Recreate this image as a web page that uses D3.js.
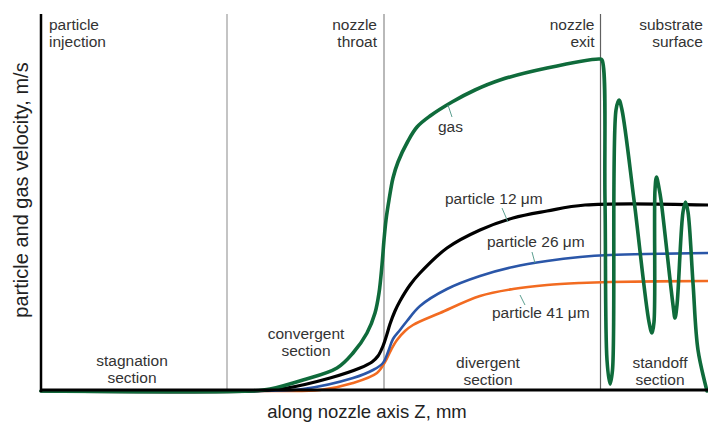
<!DOCTYPE html>
<html>
<head>
<meta charset="utf-8">
<script src="https://cdn.jsdelivr.net/npm/d3@7"></script>
<style>
  html, body { margin: 0; padding: 0; background: #fff; }
  svg { display: block; font-family: Arial, "Liberation Sans", sans-serif; }
</style>
</head>
<body>
<svg id="chart" width="708" height="423"></svg>
<script>
// Axial position along the nozzle (mm) and velocity (m/s)
const gasZ = [0, 41.8, 45.8, 52.4, 59.2, 62.4, 65.2, 66.8, 67.6, 68.2, 68.6, 69.0, 69.6, 70.4, 71.4, 73.4, 75.2, 77.8, 82.2, 86.8, 91.8, 101.2, 111.8,
  112.2, 112.8, 113.2, 113.8, 114.3, 115.0, 115.6, 116.2, 118.6, 121.6, 122.2, 122.6, 122.8, 123.1, 123.6, 124.0, 126.4, 126.8, 127.2, 128.4, 128.9, 129.4, 130.4, 131.4, 133.2];
const gasV = [0, 0, 4, 22, 46, 76, 116, 156, 196, 252, 302, 342, 382, 426, 458, 500, 528, 550, 578, 602, 622, 646, 664,
  662, 382, 62, 14, 42, 562, 582, 562, 382, 138, 116, 138, 402, 428, 406, 382, 172, 146, 172, 358, 378, 358, 216, 82, 0];

const p12Z = [0, 42.8, 49.2, 57.8, 63.8, 66.2, 67.4, 68.4, 69.2, 69.8, 70.8, 71.8, 73.8, 75.8, 81.2, 87.8, 94.4, 101.2, 108.8, 133.4];
const p12V = [0, 0, 6, 26, 46, 58, 70, 90, 114, 134, 160, 180, 212, 236, 286, 322, 346, 360, 372, 372];

const p26Z = [0, 43.8, 52.4, 62.4, 66.4, 68.4, 69.4, 70.4, 71.8, 73.2, 75.8, 81.2, 87.8, 94.4, 101.2, 107.8, 113.8, 133.4];
const p26V = [0, 0, 4, 26, 42, 56, 78, 104, 122, 140, 170, 204, 230, 248, 260, 268, 272, 276];

const p41Z = [0, 45.8, 55.8, 62.4, 67.2, 68.8, 70.0, 71.2, 72.8, 74.4, 79.8, 87.8, 94.4, 101.2, 107.8, 113.8, 133.4];
const p41V = [0, 0, 2, 16, 36, 58, 82, 102, 120, 132, 156, 190, 204, 212, 216, 218, 220];

// Section boundaries: end of stagnation, nozzle throat, nozzle exit
const boundaryZ = [37.2, 68.6, 111.9];
const boundaryColors = ["#b0b0b0", "#8a8a8a", "#606060"];

const svg = d3.select("#chart");
const x = d3.scaleLinear().domain([0, 133.4]).range([41, 708]);
const y = d3.scaleLinear().domain([0, 754]).range([391, 14]);

const zip = (zs, vs) => zs.map((z, i) => [z, vs[i]]);
const line = d3.line().x(d => x(d[0])).y(d => y(d[1])).curve(d3.curveCatmullRom.alpha(0.5));

// section boundary lines
svg.selectAll("line.boundary").data(boundaryZ).join("line")
  .attr("class", "boundary")
  .attr("x1", d => x(d)).attr("x2", d => x(d))
  .attr("y1", y.range()[1]).attr("y2", y.range()[0])
  .attr("stroke", (d, i) => boundaryColors[i])
  .attr("stroke-width", (d, i) => i === 0 ? 1.5 : 1.2);

const series = [
  { z: p41Z, v: p41V, color: "#f26b21", w: 2.6 },
  { z: p26Z, v: p26V, color: "#2a56a8", w: 2.6 },
  { z: p12Z, v: p12V, color: "#000000", w: 3.2 },
  { z: gasZ, v: gasV, color: "#0f6b3b", w: 3.6 }
];
svg.selectAll("path.curve").data(series).join("path")
  .attr("class", "curve")
  .attr("d", d => line(zip(d.z, d.v)))
  .attr("fill", "none")
  .attr("stroke", d => d.color)
  .attr("stroke-width", d => d.w)
  .attr("stroke-linejoin", "round")
  .attr("stroke-linecap", "round");

// axes
svg.append("line")
  .attr("x1", x.range()[0]).attr("x2", x.range()[1])
  .attr("y1", y.range()[0] - 1).attr("y2", y.range()[0] - 1)
  .attr("stroke", "#000").attr("stroke-width", 3);
svg.append("line")
  .attr("x1", x.range()[0]).attr("x2", x.range()[0])
  .attr("y1", y.range()[1]).attr("y2", y.range()[0] + 1)
  .attr("stroke", "#000").attr("stroke-width", 2.5);

const textColor = "#333";
function label(lines, px, py, anchor, size = 15.5, lh = 17) {
  const t = svg.append("text")
    .attr("x", px).attr("y", py)
    .attr("text-anchor", anchor)
    .attr("font-size", size)
    .attr("fill", textColor);
  lines.forEach((s, i) => t.append("tspan").attr("x", px).attr("dy", i === 0 ? 0 : lh).text(s));
}

// position markers along the nozzle
label(["particle", "injection"], 49, 30, "start");
label(["nozzle", "throat"], x(boundaryZ[1]) - 7, 30, "end");
label(["nozzle", "exit"], x(boundaryZ[2]) - 6, 30, "end");
label(["substrate", "surface"], 703, 30, "end");

// section names
label(["stagnation", "section"], 132, 366, "middle");
label(["convergent", "section"], 306, 339, "middle");
label(["divergent", "section"], 488, 368, "middle");
label(["standoff", "section"], 660, 368, "middle");

// curve labels with leader lines
const leader = "#5c9f90";
function tag(text, px, py, lx1, ly1, lx2, ly2) {
  label([text], px, py, "start");
  svg.append("line").attr("x1", lx1).attr("y1", ly1).attr("x2", lx2).attr("y2", ly2)
    .attr("stroke", leader).attr("stroke-width", 1);
}
tag("gas", 438, 132, 448, 105, 452, 117);
tag("particle 12 \u03bcm", 445, 204, 502, 208, 508, 222);
tag("particle 26 \u03bcm", 487, 247, 532, 252, 535, 263);
tag("particle 41 \u03bcm", 492, 318, 520, 295, 525, 305);

// axis titles
svg.append("text")
  .attr("x", 367).attr("y", 418)
  .attr("text-anchor", "middle")
  .attr("font-size", 18.5)
  .attr("fill", "#222")
  .text("along nozzle axis Z, mm");
svg.append("text")
  .attr("transform", "translate(28,190) rotate(-90)")
  .attr("text-anchor", "middle")
  .attr("font-size", 20)
  .attr("fill", "#222")
  .text("particle and gas velocity, m/s");
</script>
</body>
</html>
